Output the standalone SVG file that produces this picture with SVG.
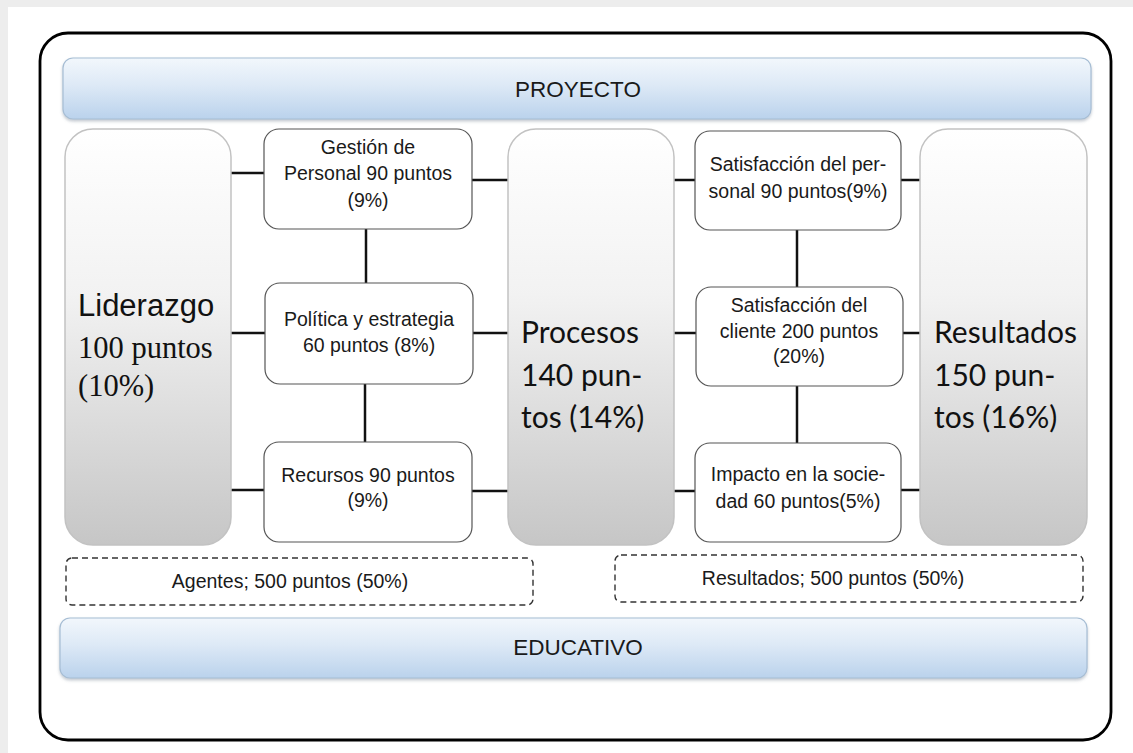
<svg xmlns="http://www.w3.org/2000/svg" width="1133" height="753" viewBox="0 0 1133 753">
  <defs>
    <linearGradient id="barFill" x1="0" y1="0" x2="0" y2="1">
      <stop offset="0" stop-color="#f2f7fc"/>
      <stop offset="0.45" stop-color="#dde9f6"/>
      <stop offset="1" stop-color="#bad2ec"/>
    </linearGradient>
    <linearGradient id="colFill" x1="0" y1="0" x2="0" y2="1">
      <stop offset="0" stop-color="#ffffff"/>
      <stop offset="0.4" stop-color="#f2f2f2"/>
      <stop offset="1" stop-color="#c6c6c6"/>
    </linearGradient>
    <filter id="soft" x="-5%" y="-5%" width="110%" height="115%">
      <feDropShadow dx="0" dy="2" stdDeviation="1.5" flood-color="#7a8a9a" flood-opacity="0.45"/>
    </filter>
  </defs>
  <style>
    .bar { fill: url(#barFill); stroke: #a6bdd4; stroke-width: 1.2; }
    .col { fill: url(#colFill); stroke: #c2c2c2; stroke-width: 1.5; }
    .box { fill: #ffffff; stroke: #555555; stroke-width: 1.2; }
    .dash { fill: none; stroke: #333333; stroke-width: 1.4; stroke-dasharray: 6 4; }
    .link { stroke: #111111; stroke-width: 2.5; fill: none; }
    .t { font-family: "Liberation Sans", Arial, sans-serif; font-size: 19.5px; fill: #1a1a1a; text-anchor: middle; }
    .head { font-family: "Liberation Sans", Arial, sans-serif; font-size: 22.5px; fill: #1a1a1a; text-anchor: middle; }
    .big { font-family: "Liberation Sans", Arial, sans-serif; font-size: 31px; fill: #111111; }
    .serif { font-family: "Liberation Serif", "Times New Roman", serif; font-size: 30.5px; fill: #111111; }
    .hum { font-family: Lato, "Open Sans", sans-serif; font-size: 30px; fill: #111111; }
  </style>

  <!-- page -->
  <rect x="0" y="0" width="1133" height="753" fill="#ededed"/>
  <rect x="8" y="7" width="1125" height="746" fill="#ffffff"/>

  <!-- outer frame -->
  <rect id="frame" x="40" y="33" width="1071" height="707" rx="28" fill="#ffffff" stroke="#000000" stroke-width="2.8"/>

  <g id="proyecto">
    <rect class="bar" x="63" y="58" width="1028" height="61" rx="10" filter="url(#soft)"/>
    <text class="head" x="578" y="97">PROYECTO</text>
  </g>

  <!-- connectors -->
  <g id="connectors">
    <line class="link" x1="231" y1="173" x2="264" y2="173"/>
    <line class="link" x1="231" y1="333" x2="265" y2="333"/>
    <line class="link" x1="231" y1="490" x2="264" y2="490"/>
    <line class="link" x1="472" y1="180" x2="508" y2="180"/>
    <line class="link" x1="473" y1="333" x2="508" y2="333"/>
    <line class="link" x1="472" y1="491" x2="508" y2="491"/>
    <line class="link" x1="366" y1="229" x2="366" y2="283"/>
    <line class="link" x1="365" y1="384" x2="365" y2="442"/>
    <line class="link" x1="674" y1="180" x2="695" y2="180"/>
    <line class="link" x1="674" y1="333" x2="696" y2="333"/>
    <line class="link" x1="674" y1="491" x2="695" y2="491"/>
    <line class="link" x1="901" y1="180" x2="920" y2="180"/>
    <line class="link" x1="903" y1="333" x2="920" y2="333"/>
    <line class="link" x1="901" y1="490" x2="920" y2="490"/>
    <line class="link" x1="797" y1="230" x2="797" y2="287"/>
    <line class="link" x1="797" y1="386" x2="797" y2="443"/>
  </g>

  <g id="liderazgo">
    <rect class="col" x="65" y="129" width="166" height="416" rx="28"/>
    <text class="big" x="78" y="316">Liderazgo</text>
    <text class="serif" x="78" y="358">100 puntos</text>
    <text class="serif" x="78" y="396">(10%)</text>
  </g>

  <g id="gestion">
    <rect class="box" x="264" y="129" width="208" height="100" rx="15"/>
    <text class="t" x="368" y="154">Gestión de</text>
    <text class="t" x="368" y="180">Personal 90 puntos</text>
    <text class="t" x="368" y="207">(9%)</text>
  </g>

  <g id="politica">
    <rect class="box" x="265" y="283" width="208" height="101" rx="15"/>
    <text class="t" x="369" y="326">Política y estrategia</text>
    <text class="t" x="369" y="352">60 puntos (8%)</text>
  </g>

  <g id="recursos">
    <rect class="box" x="264" y="442" width="208" height="100" rx="15"/>
    <text class="t" x="368" y="482">Recursos 90 puntos</text>
    <text class="t" x="368" y="507">(9%)</text>
  </g>

  <g id="procesos">
    <rect class="col" x="508" y="129" width="166" height="416" rx="28"/>
    <text class="hum" x="521" y="343">Procesos</text>
    <text class="hum" x="521" y="386">140 pun-</text>
    <text class="hum" x="521" y="428">tos (14%)</text>
  </g>

  <g id="sat-personal">
    <rect class="box" x="695" y="131" width="206" height="99" rx="15"/>
    <text class="t" x="798" y="171">Satisfacción del per-</text>
    <text class="t" x="798" y="198">sonal 90 puntos(9%)</text>
  </g>

  <g id="sat-cliente">
    <rect class="box" x="696" y="287" width="207" height="99" rx="15"/>
    <text class="t" x="799" y="312">Satisfacción del</text>
    <text class="t" x="799" y="338">cliente 200 puntos</text>
    <text class="t" x="799" y="363">(20%)</text>
  </g>

  <g id="impacto">
    <rect class="box" x="695" y="443" width="206" height="99" rx="15"/>
    <text class="t" x="798" y="481">Impacto en la socie-</text>
    <text class="t" x="798" y="508">dad 60 puntos(5%)</text>
  </g>

  <g id="resultados">
    <rect class="col" x="920" y="129" width="167" height="416" rx="28"/>
    <text class="hum" x="934" y="343">Resultados</text>
    <text class="hum" x="934" y="386">150 pun-</text>
    <text class="hum" x="934" y="428">tos (16%)</text>
  </g>

  <g id="agentes-total">
    <rect class="dash" x="66" y="558" width="467" height="47" rx="6"/>
    <text class="t" x="290" y="588">Agentes; 500 puntos (50%)</text>
  </g>

  <g id="resultados-total">
    <rect class="dash" x="615" y="555" width="468" height="47" rx="6"/>
    <text class="t" x="833" y="585">Resultados; 500 puntos (50%)</text>
  </g>

  <g id="educativo">
    <rect class="bar" x="60" y="618" width="1027" height="60" rx="10" filter="url(#soft)"/>
    <text class="head" x="578" y="655">EDUCATIVO</text>
  </g>
</svg>
